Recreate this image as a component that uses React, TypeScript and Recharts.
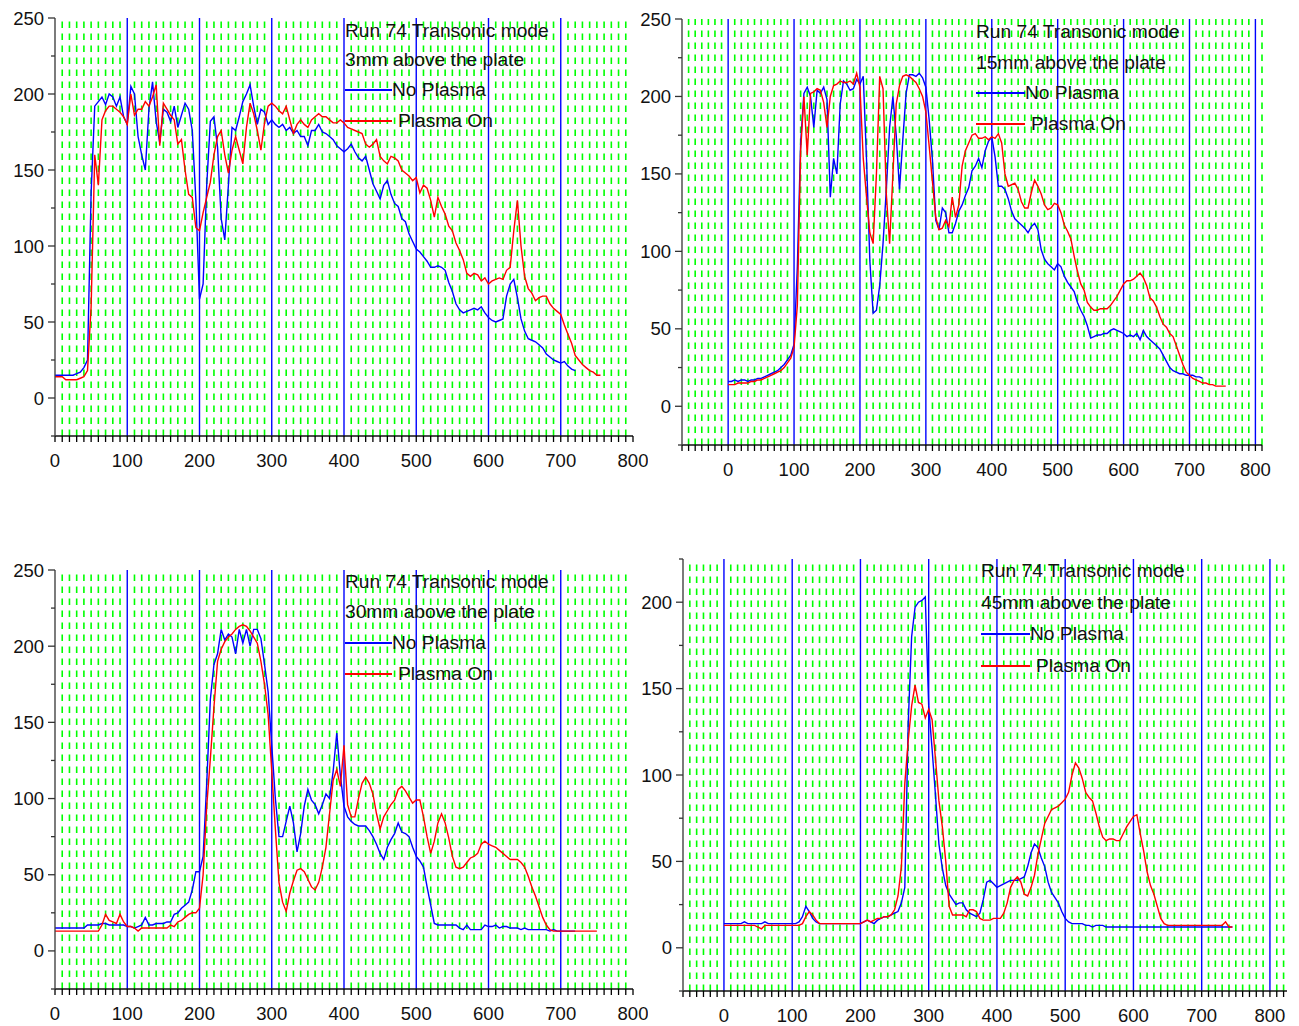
import React from "react";
import { Line, LineChart, ReferenceLine, XAxis, YAxis } from "recharts";

// sample positions (mm), shared by all four probes
const X = [
  0, 5, 10, 15, 20, 25, 30, 35, 40, 45, 50, 55, 60, 65, 70, 75, 80, 85, 90, 95,
  100, 105, 110, 115, 120, 125, 130, 135, 140, 145, 150, 155, 160, 165, 170, 175, 180, 185, 190, 195,
  200, 205, 210, 215, 220, 225, 230, 235, 240, 245, 250, 255, 260, 265, 270, 275, 280, 285, 290, 295,
  300, 305, 310, 315, 320, 325, 330, 335, 340, 345, 350, 355, 360, 365, 370, 375, 380, 385, 390, 395,
  400, 405, 410, 415, 420, 425, 430, 435, 440, 445, 450, 455, 460, 465, 470, 475, 480, 485, 490, 495,
  500, 505, 510, 515, 520, 525, 530, 535, 540, 545, 550, 555, 560, 565, 570, 575, 580, 585, 590, 595,
  600, 605, 610, 615, 620, 625, 630, 635, 640, 645, 650, 655, 660, 665, 670, 675, 680, 685, 690, 695,
  700, 705, 710, 715, 720, 725, 730, 735, 740, 745, 750, 755,
];

// 3mm above the plate
const NO_PLASMA_3 = [
  15, 15, 15, 15, 15, 15, 16, 17, 20, 25, 135, 192, 195, 198, 193, 200, 198, 192, 198, 185,
  180, 205, 200, 172, 160, 150, 190, 208, 182, 168, 190, 188, 182, 192, 178, 186, 194, 190, 176, 130,
  65, 75, 140, 182, 185, 165, 118, 104, 140, 178, 176, 185, 195, 200, 206, 192, 180, 190, 188, 180,
  183, 180, 178, 180, 176, 178, 174, 176, 172, 172, 166, 176, 176, 180, 175, 174, 172, 170, 166, 164,
  162, 164, 167, 162, 158, 156, 159, 150, 141, 136, 131, 140, 143, 134, 128, 126, 118, 116, 108, 103,
  98, 96, 93, 90, 86, 86, 87, 86, 84, 76, 70, 62, 58, 56, 57, 58, 59, 58, 60, 56,
  53, 51, 50, 51, 52, 67, 75, 78, 66, 52, 44, 39, 38, 37, 35, 33, 29, 27, 25, 24,
  23, 24, 21, 19, 18, null, null, null, null, null, null, null,
];
const PLASMA_ON_3 = [
  14, 14, 14, 12, 12, 12, 12, 13, 14, 18, 60, 160, 140, 183, 189, 192, 192, 190, 188, 185,
  180, 200, 186, 190, 190, 195, 192, 198, 206, 166, 194, 190, 186, 183, 167, 170, 150, 134, 132, 112,
  110, 122, 132, 142, 160, 172, 176, 160, 148, 163, 172, 163, 154, 178, 194, 187, 176, 163, 181, 192,
  194, 192, 189, 187, 192, 183, 174, 180, 183, 180, 178, 183, 185, 187, 185, 185, 183, 181, 181, 183,
  181, 178, 177, 176, 175, 174, 167, 165, 167, 170, 159, 156, 154, 159, 158, 156, 150, 148, 146, 143,
  145, 135, 140, 138, 130, 119, 132, 126, 121, 113, 110, 102, 97, 91, 82, 80, 82, 81, 77, 79,
  75, 77, 78, 79, 78, 84, 86, 110, 130, 100, 80, 72, 69, 64, 66, 67, 67, 62, 59, 57,
  55, 48, 42, 36, 28, 25, 22, 20, 18, 17, 15, 15,
];

// 15mm above the plate
const NO_PLASMA_15 = [
  16, 16, 17, 16, 17, 17, 16, 17, 17, 18, 18, 19, 20, 21, 22, 23, 25, 27, 30, 33,
  40, 90, 170, 202, 206, 200, 180, 204, 202, 206, 198, 135, 160, 150, 195, 210, 208, 204, 205, 211,
  208, 213, 159, 94, 60, 62, 78, 105, 140, 180, 200, 175, 140, 172, 202, 214, 214, 213, 215, 212,
  206, 185, 159, 120, 114, 128, 125, 112, 112, 118, 126, 130, 136, 141, 152, 155, 160, 154, 165, 171,
  174, 161, 142, 142, 140, 134, 126, 121, 119, 117, 115, 112, 116, 118, 114, 101, 95, 92, 90, 88,
  92, 90, 84, 80, 77, 74, 67, 62, 58, 52, 44, 45, 46, 46, 47, 47, 49, 50, 49, 48,
  47, 45, 46, 45, 47, 43, 49, 45, 43, 41, 39, 37, 33, 29, 25, 23, 22, 21, 21, 20,
  20, 20, 19, 19, 18, null, null, null, null, null, null, null,
];
const PLASMA_ON_15 = [
  14, 14, 14, 15, 15, 15, 15, 16, 16, 17, 17, 18, 19, 20, 21, 22, 23, 25, 28, 31,
  38, 65, 165, 200, 162, 202, 203, 205, 204, 196, 180, 200, 207, 208, 210, 209, 209, 210, 208, 215,
  206, 160, 135, 112, 105, 150, 213, 205, 137, 105, 150, 195, 207, 213, 214, 213, 211, 209, 205, 200,
  190, 168, 145, 122, 114, 115, 120, 116, 135, 122, 130, 155, 165, 170, 175, 176, 173, 173, 174, 172,
  174, 173, 176, 170, 150, 142, 143, 144, 140, 132, 128, 128, 138, 146, 142, 137, 130, 127, 128, 131,
  130, 125, 117, 113, 108, 97, 87, 79, 75, 67, 64, 62, 62, 63, 63, 63, 65, 68, 71, 75,
  79, 81, 81, 82, 84, 86, 83, 78, 70, 68, 64, 58, 53, 51, 47, 45, 39, 33, 27, 22,
  20, 18, 17, 16, 15, 15, 14, 14, 13, 13, 13, 13,
];

// 30mm above the plate
const NO_PLASMA_30 = [
  15, 15, 15, 15, 15, 15, 15, 15, 15, 17, 17, 17, 17, 18, 18, 17, 17, 17, 17, 17,
  16, 16, 15, 16, 17, 22, 17, 17, 18, 18, 18, 19, 19, 24, 25, 28, 30, 32, 40, 52,
  52, 62, 110, 165, 188, 195, 211, 204, 208, 206, 195, 211, 202, 211, 200, 211, 211, 205, 188, 170,
  135, 100, 75, 75, 85, 95, 84, 65, 77, 95, 106, 99, 96, 90, 96, 103, 100, 118, 143, 115,
  95, 88, 85, 83, 82, 82, 82, 79, 75, 70, 64, 60, 68, 73, 77, 84, 78, 77, 75, 68,
  62, 59, 55, 42, 30, 18, 17, 17, 17, 17, 17, 17, 15, 14, 17, 14, 14, 14, 14, 17,
  16, 16, 17, 15, 16, 16, 15, 15, 15, 14, 15, 14, 14, 14, 14, 14, 14, 13, 14, 13,
  13, 13, 13, 13, 13, null, null, null, null, null, null, null,
];
const PLASMA_ON_30 = [
  13, 13, 13, 13, 13, 13, 13, 13, 13, 13, 13, 13, 13, 17, 24, 20, 19, 18, 24, 19,
  16, 16, 15, 13, 15, 15, 15, 15, 15, 15, 15, 15, 17, 16, 19, 20, 22, 24, 25, 25,
  28, 50, 95, 126, 160, 190, 198, 203, 206, 208, 211, 213, 214, 213, 210, 206, 202, 190, 175, 155,
  118, 80, 45, 32, 26, 38, 46, 53, 54, 52, 47, 42, 40, 45, 55, 68, 90, 112, 119, 108,
  135, 96, 88, 88, 100, 110, 114, 110, 103, 90, 80, 88, 92, 96, 99, 106, 108, 105, 101, 97,
  99, 99, 88, 75, 64, 72, 84, 90, 84, 74, 62, 55, 54, 55, 58, 61, 62, 64, 70, 72,
  70, 69, 68, 66, 64, 62, 60, 60, 60, 58, 55, 49, 42, 36, 29, 22, 17, 14, 13, 13,
  13, 13, 13, 13, 13, 13, 13, 13, 13, 13, 13, null,
];

// 45mm above the plate
const NO_PLASMA_45 = [
  14, 14, 14, 14, 14, 14, 15, 14, 14, 14, 14, 14, 15, 14, 14, 14, 14, 14, 14, 14,
  14, 14, 15, 18, 24, 21, 17, 15, 14, 14, 14, 14, 14, 14, 14, 14, 14, 14, 14, 14,
  14, 15, 16, 15, 14, 16, 17, 18, 18, 19, 20, 21, 26, 35, 130, 180, 197, 200, 201, 203,
  140, 115, 88, 60, 46, 36, 31, 28, 25, 26, 26, 22, 20, 19, 18, 20, 28, 38, 39, 37,
  35, 36, 37, 38, 39, 39, 39, 40, 41, 47, 55, 60, 58, 52, 47, 38, 32, 29, 26, 21,
  17, 15, 14, 14, 14, 14, 13, 13, 12, 13, 13, 13, 12, 12, 12, 12, 12, 12, 12, 12,
  12, 12, 12, 12, 12, 12, 12, 12, 12, 12, 12, 12, 12, 12, 12, 12, 12, 12, 12, 12,
  12, 12, 12, 12, 12, 12, 12, 12, 12, 12, null, null,
];
const PLASMA_ON_45 = [
  13, 13, 13, 13, 13, 13, 13, 13, 13, 13, 12, 11, 13, 13, 13, 13, 13, 13, 13, 13,
  13, 13, 13, 14, 18, 21, 19, 16, 14, 14, 14, 14, 14, 14, 14, 14, 14, 14, 14, 14,
  14, 15, 16, 15, 16, 17, 17, 18, 18, 19, 22, 30, 47, 95, 120, 140, 152, 142, 141, 133,
  138, 132, 109, 85, 70, 50, 24, 19, 19, 19, 19, 18, 22, 22, 21, 17, 16, 16, 16, 17,
  17, 17, 20, 26, 35, 39, 41, 38, 31, 30, 35, 42, 54, 63, 72, 76, 80, 81, 82, 84,
  86, 90, 100, 107, 104, 98, 90, 87, 85, 78, 70, 64, 62, 63, 63, 62, 62, 66, 70, 73,
  76, 77, 66, 56, 44, 36, 31, 24, 17, 14, 13, 13, 13, 13, 13, 13, 13, 13, 13, 13,
  13, 13, 13, 13, 13, 13, 13, 15, 12, 12, null, null,
];

const X_LABELS = [0, 100, 200, 300, 400, 500, 600, 700, 800];
const Y_LABELS = [0, 50, 100, 150, 200, 250];
const TITLE = "Run 74 Transonic mode";
const SERIES_NAMES = ["No Plasma", "Plasma On"];

const FONT = '"Liberation Sans", Arial, Helvetica, sans-serif';
const BLUE = "#0000ff";
const RED = "#ff0000";
const GREEN = "#00ff00";

function range(from: number, to: number, step: number) {
  const out: number[] = [];
  for (let v = from; v <= to; v += step) out.push(v);
  return out;
}

function XTick(props: any) {
  const { x, y, payload } = props;
  const v = payload.value;
  return (
    <g>
      <line x1={x} y1={y} x2={x} y2={y + 6} stroke="#000" strokeWidth={1.3} />
      {X_LABELS.includes(v) && (
        <text x={x} y={y + 31} textAnchor="middle" fontSize={18.5} fontFamily={FONT} fill="#111">
          {v}
        </text>
      )}
    </g>
  );
}

function YTick(props: any) {
  const { x, y, payload } = props;
  const v = payload.value;
  const major = Y_LABELS.includes(v);
  return (
    <g>
      <line x1={x - (major ? 7 : 4)} y1={y} x2={x} y2={y} stroke="#333" strokeWidth={1.3} />
      {major && (
        <text x={x - 11} y={y + 6.5} textAnchor="end" fontSize={18.5} fontFamily={FONT} fill="#111">
          {v}
        </text>
      )}
    </g>
  );
}

type PanelProps = {
  depth: string;
  noPlasma: (number | null)[];
  plasmaOn: (number | null)[];
  plotX: number;
  plotY: number;
  plotW: number;
  plotH: number;
  xDomain: [number, number];
  yDomain: [number, number];
  greens: number[];
  blues: number[];
  legendX: number;
  legendY: number[];
  lineW: number;
  onGap: number;
};

function Panel(p: PanelProps) {
  const data = X.map((x, i) => ({ x, noPlasma: p.noPlasma[i], plasmaOn: p.plasmaOn[i] }));
  const xTicks = range(p.xDomain[0], p.xDomain[1], 10);
  const yTicks = range(p.yDomain[0], p.yDomain[1], 25);
  const text: React.CSSProperties = {
    position: "absolute",
    fontFamily: FONT,
    fontSize: 19.2,
    lineHeight: "22px",
    color: "#111",
    whiteSpace: "nowrap",
  };
  return (
    <>
      <div style={{ position: "absolute", left: p.plotX - 60, top: p.plotY - 20 }}>
        <LineChart
          width={p.plotW + 75}
          height={p.plotH + 70}
          data={data}
          margin={{ top: 20, right: 15, bottom: 0, left: 0 }}
        >
          <XAxis
            type="number"
            dataKey="x"
            domain={p.xDomain}
            ticks={xTicks}
            interval={0}
            tick={<XTick />}
            tickLine={false}
            tickSize={0}
            tickMargin={0}
            axisLine={{ stroke: "#111", strokeWidth: 1.4 }}
            height={50}
            allowDataOverflow
          />
          <YAxis
            type="number"
            domain={p.yDomain}
            ticks={yTicks}
            interval={0}
            tick={<YTick />}
            tickLine={false}
            tickSize={0}
            tickMargin={0}
            axisLine={{ stroke: "#444", strokeWidth: 1.4 }}
            width={60}
            allowDataOverflow
          />
          {p.greens.map((v) => (
            <ReferenceLine key={"g" + v} x={v} stroke={GREEN} strokeWidth={1.6} strokeDasharray="6.5 5.5" />
          ))}
          {p.blues.map((v) => (
            <ReferenceLine key={"b" + v} x={v} stroke={BLUE} strokeWidth={1.4} />
          ))}
          <Line
            dataKey="noPlasma"
            stroke={BLUE}
            strokeWidth={1.4}
            dot={false}
            type="linear"
            isAnimationActive={false}
          />
          <Line
            dataKey="plasmaOn"
            stroke={RED}
            strokeWidth={1.4}
            dot={false}
            type="linear"
            isAnimationActive={false}
          />
        </LineChart>
      </div>
      <div style={{ ...text, left: p.legendX, top: p.legendY[0] - 11 }}>{TITLE}</div>
      <div style={{ ...text, left: p.legendX, top: p.legendY[1] - 11 }}>{p.depth} above the plate</div>
      <div
        style={{
          position: "absolute",
          left: p.legendX,
          top: p.legendY[2] - 1,
          width: p.lineW,
          height: 1.5,
          background: BLUE,
        }}
      />
      <div style={{ ...text, left: p.legendX + p.lineW, top: p.legendY[2] - 11 }}>{SERIES_NAMES[0]}</div>
      <div
        style={{
          position: "absolute",
          left: p.legendX,
          top: p.legendY[3] - 1,
          width: p.lineW,
          height: 1.5,
          background: RED,
        }}
      />
      <div style={{ ...text, left: p.legendX + p.lineW + p.onGap, top: p.legendY[3] - 11 }}>
        {SERIES_NAMES[1]}
      </div>
    </>
  );
}

const notHundred = (v: number) => v % 100 !== 0;

export default function App() {
  return (
    <div
      style={{
        position: "absolute",
        left: 0,
        top: 0,
        width: 1299,
        height: 1026,
        background: "#fff",
        overflow: "hidden",
      }}
    >
      <Panel
        depth="3mm"
        noPlasma={NO_PLASMA_3}
        plasmaOn={PLASMA_ON_3}
        plotX={55}
        plotY={18}
        plotW={578}
        plotH={418}
        xDomain={[0, 800]}
        yDomain={[-25, 250]}
        greens={range(10, 790, 10).filter(notHundred)}
        blues={range(100, 700, 100)}
        legendX={345}
        legendY={[31, 60, 90, 121]}
        lineW={47}
        onGap={6}
      />
      <Panel
        depth="15mm"
        noPlasma={NO_PLASMA_15}
        plasmaOn={PLASMA_ON_15}
        plotX={682}
        plotY={19}
        plotW={580}
        plotH={426}
        xDomain={[-70, 810]}
        yDomain={[-25, 250]}
        greens={range(-60, 810, 10).filter(notHundred)}
        blues={range(0, 800, 100)}
        legendX={976}
        legendY={[32, 63, 93, 124]}
        lineW={49}
        onGap={6}
      />
      <Panel
        depth="30mm"
        noPlasma={NO_PLASMA_30}
        plasmaOn={PLASMA_ON_30}
        plotX={55}
        plotY={570}
        plotW={578}
        plotH={419}
        xDomain={[0, 800]}
        yDomain={[-25, 250]}
        greens={range(10, 790, 10).filter(notHundred)}
        blues={range(100, 700, 100)}
        legendX={345}
        legendY={[582, 612, 643, 674]}
        lineW={47}
        onGap={6}
      />
      <Panel
        depth="45mm"
        noPlasma={NO_PLASMA_45}
        plasmaOn={PLASMA_ON_45}
        plotX={683}
        plotY={559}
        plotW={604}
        plotH={432}
        xDomain={[-60, 825]}
        yDomain={[-25, 225]}
        greens={range(-50, 820, 10).filter(notHundred)}
        blues={range(0, 800, 100)}
        legendX={981}
        legendY={[571, 603, 634, 666]}
        lineW={49}
        onGap={6}
      />
    </div>
  );
}
